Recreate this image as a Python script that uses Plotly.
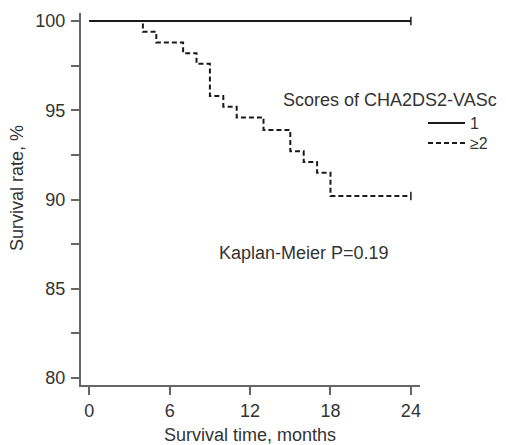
import plotly.graph_objects as go

# Data
months_g1 = [0, 24]
surv_g1 = [100, 100]
months_g2 = [0, 4, 5, 7, 8, 9, 10, 11, 13, 15, 16, 17, 18, 24]
surv_g2 = [100, 99.4, 98.8, 98.2, 97.6, 95.8, 95.2, 94.6, 93.9, 92.7, 92.1, 91.5, 90.2, 90.2]
x_ticks = [0, 6, 12, 18, 24]
y_ticks = [80, 85, 90, 95, 100]
legend_title = "Scores of CHA2DS2-VASc"
group_names = ["1", "≥2"]
p_text = "Kaplan-Meier P=0.19"

FONT = "Liberation Sans, Arial, Helvetica, sans-serif"
TXT = "#333333"
LINE = "#1a1a1a"
AX = "#666666"
FS = 18
LFS = 16

fig = go.Figure()
fig.add_trace(go.Scatter(x=months_g1, y=surv_g1, mode="lines", line=dict(color=LINE, width=2, shape="hv"),
                         name=group_names[0], legend="legend"))
fig.add_trace(go.Scatter(x=months_g2, y=surv_g2, mode="lines", line=dict(color=LINE, width=2, shape="hv", dash="5px,3px"),
                         name=group_names[1], legend="legend2"))
# censor ticks at end of follow-up
fig.add_trace(go.Scatter(x=[months_g1[-1], months_g2[-1]], y=[surv_g1[-1], surv_g2[-1]], mode="markers",
                         marker=dict(symbol="line-ns", size=6, line=dict(color=LINE, width=1.5)),
                         showlegend=False, hoverinfo="skip"))

W, H = 506, 445
L, R, T, B = 81, 86, 13, 60
pw, ph = W - L - R, H - T - B

def px_x(x):
    return (x - L) / pw

def px_y(y):
    return (H - B - y) / ph

fig.update_layout(
    width=W, height=H,
    margin=dict(l=L, r=R, t=T, b=B),
    plot_bgcolor="white", paper_bgcolor="white",
    font=dict(family=FONT, size=FS, color=TXT),
    xaxis=dict(range=[-0.62, 24.68], tickvals=x_ticks, showline=True, linecolor=AX, linewidth=2,
               ticks="outside", ticklen=8, tickwidth=1.5, tickcolor=AX, showgrid=False, zeroline=False,
               tickfont=dict(size=FS, color=TXT)),
    yaxis=dict(range=[79.61, 100.45], tickvals=y_ticks, showline=True, linecolor=AX, linewidth=2,
               ticks="outside", ticklen=8, tickwidth=1.5, tickcolor=AX, showgrid=False, zeroline=False,
               tickfont=dict(size=FS, color=TXT), ticklabelstandoff=2,
               minor=dict(tickvals=[82.5, 87.5, 92.5, 97.5], ticks="outside", ticklen=8, tickwidth=1.5, tickcolor=AX)),
    legend=dict(x=px_x(423), y=px_y(123), xanchor="left", yanchor="middle", bgcolor="rgba(0,0,0,0)",
                font=dict(size=LFS, color=TXT), itemwidth=37),
    legend2=dict(x=px_x(423), y=px_y(143), xanchor="left", yanchor="middle", bgcolor="rgba(0,0,0,0)",
                 font=dict(size=LFS, color=TXT), itemwidth=37),
    annotations=[
        dict(text=legend_title, x=px_x(281), y=px_y(100), xref="paper", yref="paper", xanchor="left",
             yanchor="middle", showarrow=False, font=dict(size=FS, color=TXT)),
        dict(text=p_text, x=px_x(304), y=px_y(253), xref="paper", yref="paper", xanchor="center",
             yanchor="middle", showarrow=False, font=dict(size=FS, color=TXT)),
        dict(text="Survival time, months", x=px_x(250), y=px_y(435), xref="paper", yref="paper",
             xanchor="center", yanchor="middle", showarrow=False, font=dict(size=FS, color=TXT)),
        dict(text="Survival rate, %", x=px_x(17), y=px_y(188), xref="paper", yref="paper",
             xanchor="center", yanchor="middle", textangle=-90, showarrow=False, font=dict(size=FS, color=TXT)),
    ],
)

fig.write_html("out.html")
